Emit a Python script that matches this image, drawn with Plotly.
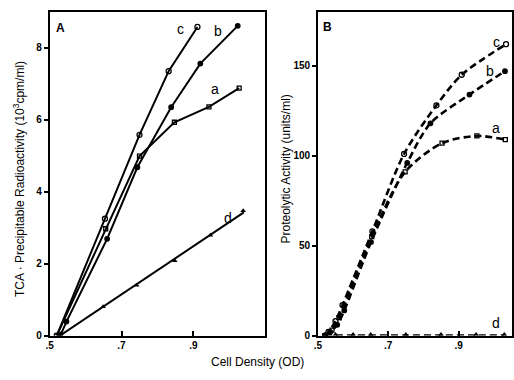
import numpy as np
import plotly.graph_objects as go

# Panel A: TCA-precipitable radioactivity (10^3 cpm/ml) vs cell density (OD)
a_c_x = [0.52, 0.654, 0.750, 0.831, 0.911]
a_c_y = [0.0, 3.25, 5.58, 7.35, 8.58]
a_b_x = [0.53, 0.547, 0.660, 0.744, 0.838, 0.919, 1.023]
a_b_y = [0.0, 0.39, 2.69, 4.68, 6.35, 7.56, 8.61]
a_a_x = [0.52, 0.656, 0.750, 0.847, 0.943, 1.027]
a_a_y = [0.0, 2.97, 4.99, 5.93, 6.36, 6.88]
a_d_x = [0.53, 0.649, 0.742, 0.848, 0.947, 1.038]
a_d_y = [0.05, 0.80, 1.40, 2.08, 2.79, 3.47]

# Panel B: proteolytic activity (units/ml) vs cell density (OD)
b_c_x = [0.52, 0.53, 0.55, 0.57, 0.655, 0.745, 0.837, 0.909, 1.035]
b_c_y = [0, 2, 8, 17, 58, 101, 128, 145, 162]
b_b_x = [0.52, 0.535, 0.555, 0.575, 0.651, 0.754, 0.820, 0.931, 1.032]
b_b_y = [0, 2, 6, 14, 52, 96, 118, 134, 147]
b_a_x = [0.52, 0.54, 0.56, 0.653, 0.748, 0.853, 0.952, 1.033]
b_a_y = [0, 3, 10, 55, 91, 107, 111, 109]
b_d_x = [0.52, 0.55, 0.60, 0.65, 0.75, 0.85, 0.95, 1.03]
b_d_y = [0, 0, 0, 0, 0, 0, 0, 0]

x_ticks = [0.5, 0.7, 0.9]
x_tick_text = ["<b>.5</b>", "<b>.7</b>", "<b>.9</b>"]
a_y_ticks = [0, 2, 4, 6, 8]
a_y_text = ["<b>0</b>", "<b>2</b>", "<b>4</b>", "<b>6</b>", "<b>8</b>"]
b_y_ticks = [0, 50, 100, 150]
b_y_text = ["<b>0</b>", "<b>50</b>", "<b>100</b>", "<b>150</b>"]

FONT = "Liberation Sans, Arial, sans-serif"
K = "black"

fig = go.Figure()

def mk(sym, size):
    return dict(symbol=sym, size=size, color=K, line=dict(color=K, width=1.3))

def solid(x, y, sym, size):
    fig.add_trace(go.Scatter(
        x=x, y=y, mode="lines+markers", xaxis="x", yaxis="y", showlegend=False,
        line=dict(color=K, width=2), marker=mk(sym, size)))

solid(a_c_x, a_c_y, "circle-open", 5)
solid(a_b_x, a_b_y, "circle", 4.5)
solid(a_a_x, a_a_y, "square-open", 4)
# d: straight fitted line through the points plus markers
k, b0 = np.polyfit(a_d_x, a_d_y, 1)
fx = [0.525, 1.04]
fig.add_trace(go.Scatter(x=fx, y=[k * v + b0 for v in fx], mode="lines",
                         xaxis="x", yaxis="y", showlegend=False,
                         line=dict(color=K, width=2)))
fig.add_trace(go.Scatter(x=a_d_x, y=a_d_y, mode="markers", xaxis="x", yaxis="y",
                         showlegend=False, marker=dict(symbol="triangle-up", size=5, color=K)))

def dashed(x, y, sym, size):
    fig.add_trace(go.Scatter(
        x=x, y=y, mode="lines+markers", xaxis="x2", yaxis="y2", showlegend=False,
        line=dict(color=K, width=2.6, dash="7px,4px", shape="spline", smoothing=0.8),
        marker=mk(sym, size)))

dashed(b_c_x, b_c_y, "circle-open", 5)
dashed(b_b_x, b_b_y, "circle", 4.5)
dashed(b_a_x, b_a_y, "square-open", 4)
dashed(b_d_x, b_d_y, "triangle-up", 5)

W, H = 514, 380
def px(v):
    return v / W
def py(v):
    return 1 - v / H

axis_common = dict(showgrid=False, zeroline=False, showline=True, linecolor=K,
                   linewidth=1.5, mirror=True, tickcolor=K, tickwidth=1.5,
                   tickfont=dict(family=FONT, size=10, color=K))

fig.update_layout(
    width=W, height=H, margin=dict(l=0, r=0, t=0, b=0),
    paper_bgcolor="white", plot_bgcolor="white",
    xaxis=dict(domain=[px(46), px(264)], range=[0.5, 1.1], tickvals=x_ticks,
               ticktext=x_tick_text, ticks="inside", ticklen=5, anchor="y",
               **axis_common),
    yaxis=dict(domain=[py(341), py(12)], range=[0, 9], tickvals=a_y_ticks,
               ticktext=a_y_text, ticks="outside", ticklen=4, anchor="x", **axis_common),
    xaxis2=dict(domain=[px(317), px(513)], range=[0.5, 1.052], tickvals=x_ticks,
                ticktext=x_tick_text, ticks="inside", ticklen=5, anchor="y2",
                **axis_common),
    yaxis2=dict(domain=[py(341), py(12)], range=[0, 180], tickvals=b_y_ticks,
                ticktext=b_y_text, ticks="outside", ticklen=4, anchor="x2", **axis_common),
)

def ann(text, x, y, size=13, angle=0):
    fig.add_annotation(text=text, x=x, y=y, xref="paper", yref="paper", showarrow=False,
                       textangle=angle, font=dict(family=FONT, size=size, color=K),
                       xanchor="center", yanchor="middle")

ann("<b>A</b>", px(57), py(28), size=12)
ann("<b>B</b>", px(327), py(27), size=12)
ann("Cell Density (OD)", px(256), py(368), size=12)
ann("TCA · Precipitable Radioactivity (10<sup>3</sup>cpm/ml)", px(15), py(182), size=12, angle=-90)
ann("Proteolytic Activity (units/ml)", px(285), py(172), size=12, angle=-90)

for t, x, y in [("c", 178, 29), ("b", 216, 31), ("a", 213, 90), ("d", 226, 221),
                ("c", 497, 43), ("b", 491, 72), ("a", 497, 130), ("d", 497, 328)]:
    ann(t, px(x), py(y), size=14)

fig.write_html("out.html", config={"displayModeBar": False},
               post_script="document.body.style.margin='0';")
